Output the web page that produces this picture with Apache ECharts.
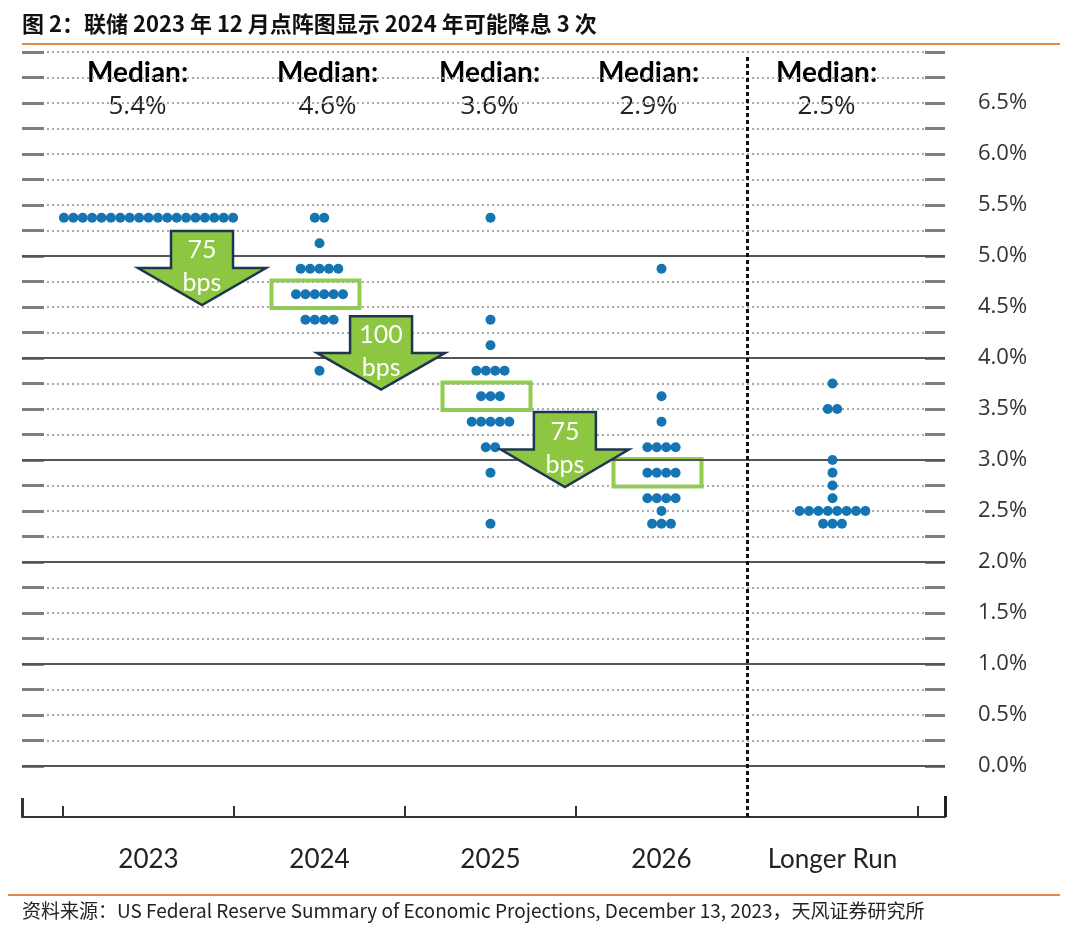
<!DOCTYPE html>
<html>
<head>
<meta charset="utf-8">
<script src="https://cdn.jsdelivr.net/npm/echarts@6/dist/echarts.min.js"></script>
<style>
  html, body { margin: 0; padding: 0; background: #fff; }
  #chart { width: 1080px; height: 932px; }
</style>
</head>
<body>
<div id="chart"></div>
<script>
// ---------------- DATA ----------------
const categories = ['2023', '2024', '2025', '2026', 'Longer Run'];
// [rate (%), number of participants]
const dots2023 = [[5.375, 19]];
const dots2024 = [[5.375, 2], [5.125, 1], [4.875, 5], [4.625, 6], [4.375, 4], [3.875, 1]];
const dots2025 = [[5.375, 1], [4.375, 1], [4.125, 1], [3.875, 4], [3.625, 3], [3.375, 5], [3.125, 2], [2.875, 1], [2.375, 1]];
const dots2026 = [[4.875, 1], [3.625, 1], [3.375, 1], [3.125, 4], [2.875, 4], [2.625, 4], [2.5, 1], [2.375, 3]];
const dotsLonger = [[3.75, 1], [3.5, 2], [3.0, 1], [2.875, 1], [2.75, 1], [2.625, 1], [2.5, 8], [2.375, 3]];
const medianLabels = ['5.4%', '4.6%', '3.6%', '2.9%', '2.5%'];
const boxedMedianRates = [null, 4.625, 3.625, 2.875, null];
const cutLabels = [['75', 'bps'], ['100', 'bps'], ['75', 'bps']];
const yTickValues = [0, 0.5, 1, 1.5, 2, 2.5, 3, 3.5, 4, 4.5, 5, 5.5, 6, 6.5];
const titleText = '图 2：联储 2023 年 12 月点阵图显示 2024 年可能降息 3 次';
const sourceText = '资料来源：US Federal Reserve Summary of Economic Projections, December 13, 2023，天风证券研究所';

// ---------------- LAYOUT ----------------
const colPx = 171;                 // column width in px
const xMin = (22 - 63) / colPx;    // axis start (column units)
const xMax = (945 - 63) / colPx;   // axis end
const yMin = -0.5, yMax = 7.0;
const dotStep = 9.4 / colPx;
const medianOffsetPx = [-11, 8, -1, -13, -6];
// arrow anchors: [x centre, y top, y tip]
const arrowAnchors = [[0.813, 5.245, 4.52], [1.86, 4.41, 3.69], [2.935, 3.47, 2.735]];

const allColumns = [dots2023, dots2024, dots2025, dots2026, dotsLonger];
const dotData = [];
allColumns.forEach((col, ci) => {
  const c = ci + 0.5;
  col.forEach(([rate, n]) => {
    for (let i = 0; i < n; i++) dotData.push([c + (i - (n - 1) / 2) * dotStep, rate]);
  });
});

// grid decoration lines
const gridLines = [];
for (let k = 0; k <= 28; k++) {
  const v = k * 0.25;
  if (k % 4 !== 0 || v > 5) {
    gridLines.push([{ coord: [xMin, v], lineStyle: { color: '#a8a8a8', width: 2, type: [2, 3] } }, { coord: [xMax, v] }]);
  }
  gridLines.push([{ coord: [xMin, v], lineStyle: { color: '#7f7f7f', width: 3, type: 'solid' } }, { coord: [xMin + 22 / colPx, v] }]);
  gridLines.push([{ coord: [xMax - 20 / colPx, v], lineStyle: { color: '#7f7f7f', width: 3, type: 'solid' } }, { coord: [xMax, v] }]);
}
for (let v = 0; v <= 5; v++) {
  gridLines.push([{ coord: [xMin, v], lineStyle: { color: '#555', width: 2, type: 'solid' } }, { coord: [xMax, v] }]);
}
// divider
gridLines.push([{ coord: [4, yMin], lineStyle: { color: '#111', width: 3, type: [4, 3] } }, { coord: [4, 6.97] }]);
// bottom ticks
for (let b = 0; b <= 5; b++) {
  if (b === 4) continue;
  gridLines.push([{ coord: [b, yMin], lineStyle: { color: '#333', width: 2, type: 'solid' } }, { coord: [b, yMin + 11 / 102] }]);
}
gridLines.push([{ coord: [xMin, yMin], lineStyle: { color: '#333', width: 3, type: 'solid' } }, { coord: [xMin, yMin + 19 / 102] }]);
gridLines.push([{ coord: [xMax, yMin], lineStyle: { color: '#222', width: 3, type: 'solid' } }, { coord: [xMax, yMin + 21 / 102] }]);

const boxAreas = [];
boxedMedianRates.forEach((m, ci) => {
  if (m === null) return;
  const c = ci + 0.5 - 4 / colPx;
  boxAreas.push([
    { coord: [c - 44 / colPx, m - 0.135], itemStyle: { color: 'rgba(255,255,255,0)', borderColor: '#8fcf4a', borderWidth: 4, opacity: 1 } },
    { coord: [c + 44 / colPx, m + 0.135] }
  ]);
});

const chart = echarts.init(document.getElementById('chart'), null, { renderer: 'canvas' });
const option = {
  animation: false,
  backgroundColor: '#fff',
  grid: [
    { left: 22, right: 1080 - 945, top: 52, bottom: 932 - 817 },
    { left: 63, right: 1080 - 918, top: 52, bottom: 932 - 817 }
  ],
  xAxis: [
    { type: 'value', gridIndex: 0, min: xMin, max: xMax, axisLine: { show: true, onZero: false, lineStyle: { color: '#333', width: 2 } },
      axisTick: { show: false }, axisLabel: { show: false }, splitLine: { show: false } },
    { type: 'category', gridIndex: 1, data: categories, position: 'bottom',
      axisLine: { show: false }, axisTick: { show: false },
      axisLabel: { interval: 0, hideOverlap: false, fontSize: 26, margin: 30, color: '#222', fontFamily: 'Lato' } }
  ],
  yAxis: [
    { type: 'value', gridIndex: 0, position: 'right', min: yMin, max: yMax, interval: 0.25,
      axisLine: { show: false }, axisTick: { show: false },
      axisLabel: { margin: 33, fontSize: 22, color: '#333', fontFamily: 'Open Sans', padding: [0, 0, 5, 0],
        formatter: v => yTickValues.some(t => Math.abs(t - v) < 1e-6) ? v.toFixed(1) + '%' : '' },
      splitLine: { show: false } },
    { type: 'value', gridIndex: 1, show: false, min: yMin, max: yMax }
  ],
  graphic: [
    { type: 'text', left: 22, top: 13, style: { text: titleText, font: 'bold 22px "Noto Sans CJK SC"', fill: '#111' } },
    { type: 'line', shape: { x1: 22, y1: 44, x2: 1060, y2: 44 }, style: { stroke: '#e5874a', lineWidth: 2 } },
    { type: 'line', shape: { x1: 8, y1: 895, x2: 1060, y2: 895 }, style: { stroke: '#e5874a', lineWidth: 2 } },
    { type: 'text', left: 22, top: 901, style: { text: sourceText, font: '19px "Noto Sans CJK SC"', fill: '#222' } }
  ],
  series: [
    { type: 'line', xAxisIndex: 0, yAxisIndex: 0, data: [], silent: true,
      markLine: { silent: true, symbol: 'none', label: { show: false }, animation: false, data: gridLines } },
    { type: 'scatter', xAxisIndex: 1, yAxisIndex: 1, data: [], silent: true },
    { name: 'dots', type: 'scatter', xAxisIndex: 0, yAxisIndex: 0, data: dotData, symbolSize: 10,
      itemStyle: { color: '#1574b2', opacity: 1 }, z: 5,
      markArea: { silent: true, label: { show: false }, data: boxAreas } },
    { type: 'scatter', xAxisIndex: 0, yAxisIndex: 0, symbolSize: 1, itemStyle: { color: 'rgba(0,0,0,0)', opacity: 1 },
      data: categories.map((c, i) => [i + 0.5 + medianOffsetPx[i] / colPx, 6.795]), silent: true,
      label: { show: true, position: 'inside', formatter: 'Median:', fontSize: 28, fontWeight: 'bold', color: '#000', fontFamily: 'Lato' } },
    { type: 'scatter', xAxisIndex: 0, yAxisIndex: 0, symbolSize: 1, itemStyle: { color: 'rgba(0,0,0,0)', opacity: 1 },
      data: medianLabels.map((m, i) => [i + 0.5 + medianOffsetPx[i] / colPx, 6.46]), silent: true,
      label: { show: true, position: 'inside', formatter: p => medianLabels[p.dataIndex], fontSize: 26, color: '#222', fontFamily: 'Open Sans' } },
    { type: 'custom', xAxisIndex: 0, yAxisIndex: 0, z: 10, silent: true,
      data: arrowAnchors.map((a, i) => [a[0], a[1], a[2], i]),
      renderItem: function (params, api) {
        const top = api.coord([api.value(0), api.value(1)]);
        const tip = api.coord([api.value(0), api.value(2)]);
        const h = tip[1] - top[1];
        const cx = top[0];
        const sw = 31, hw = 64, base = top[1] + h * 0.5;
        const lbl = cutLabels[api.value(3)];
        return {
          type: 'group',
          children: [
            { type: 'polygon', shape: { points: [[cx - sw, top[1]], [cx + sw, top[1]], [cx + sw, base], [cx + hw, base], [cx, tip[1]], [cx - hw, base], [cx - sw, base]] },
              style: { fill: '#8dc641', stroke: '#1f3550', lineWidth: 2.5 } },
            { type: 'text', style: { text: lbl[0], x: cx, y: top[1] + h * 0.26, align: 'center', verticalAlign: 'middle', font: '25px Lato', fill: '#fff' } },
            { type: 'text', style: { text: lbl[1], x: cx, y: top[1] + h * 0.70, align: 'center', verticalAlign: 'middle', font: '25px Lato', fill: '#fff' } }
          ]
        };
      }
    }
  ]
};
chart.setOption(option);
</script>
</body>
</html>
